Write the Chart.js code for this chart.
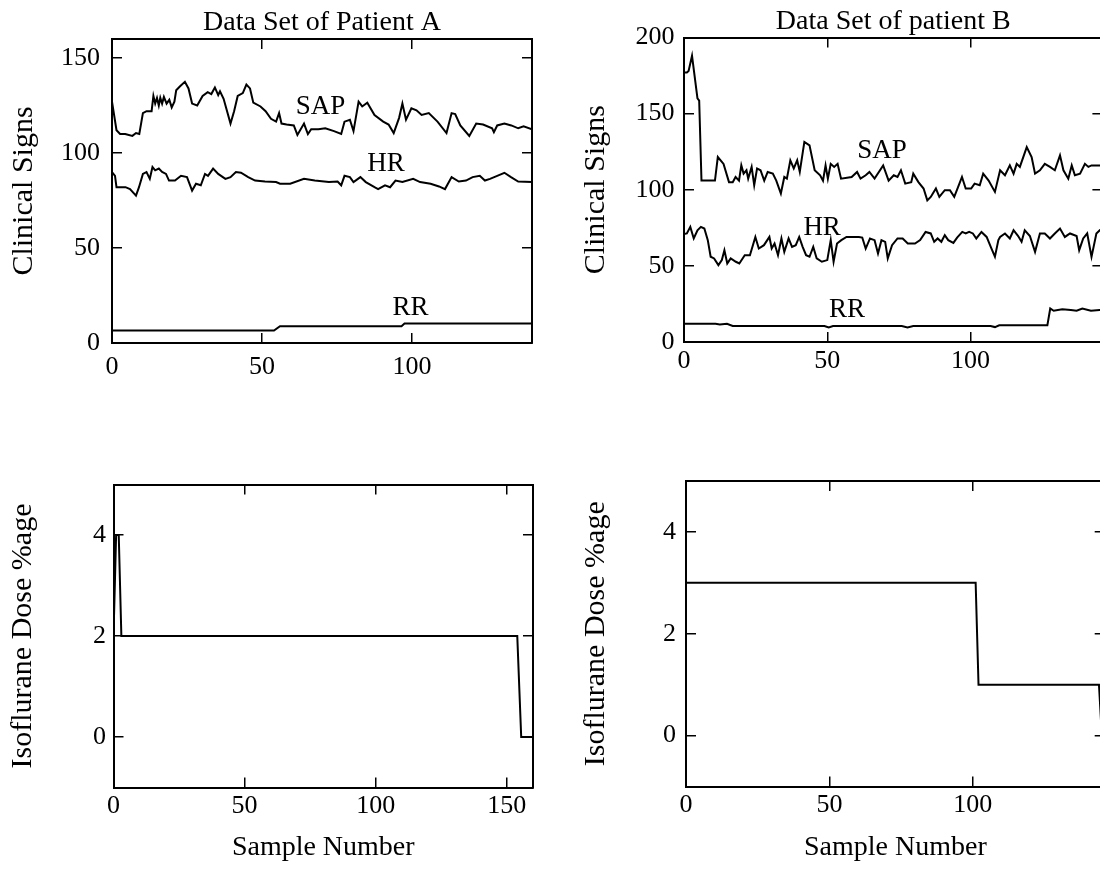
<!DOCTYPE html>
<html>
<head>
<meta charset="utf-8">
<script src="https://cdn.jsdelivr.net/npm/chart.js@4.4.1/dist/chart.umd.min.js"></script>
<style>
  html, body { margin: 0; padding: 0; background: #fff; overflow: hidden; }
  body { width: 1100px; height: 871px; position: relative; }
  canvas { position: absolute; }
</style>
</head>
<body>
<canvas id="signsA" width="550" height="435" style="left:0;top:0"></canvas>
<canvas id="signsB" width="600" height="435" style="left:550px;top:0"></canvas>
<canvas id="doseA" width="550" height="436" style="left:0;top:435px"></canvas>
<canvas id="doseB" width="600" height="436" style="left:550px;top:435px"></canvas>
<script>
// ---- patient A: clinical signs, [sample, value]
const sapA = [[0,127],[1.5,112],[2.7,110],[4.4,110],[6.8,109],[8,110.5],[9.1,110],[10.3,121],[11.5,122],[13.2,122],
  [13.8,130],[14.4,126],[15,129],[15.6,125],[16.1,129],[16.7,126],[17.3,129.5],[18.2,126],[19.1,128],[19.9,124],
  [20.8,127],[21.4,133],[22.6,135],[24.3,137.5],[25.5,134],[26.7,126],[28.4,125],[30.2,130],[31.9,132],[33.1,131],
  [34.3,134.5],[35.4,130.5],[36,132.5],[37.2,128.5],[39.5,115.5],[40.7,122],[41.9,130],[43.6,131.5],[44.8,136],[46,134],
  [47.1,126.5],[49.5,124.5],[51.2,122],[53,118],[54.7,116.5],[55.7,121],[56.5,115.5],[58.2,115],[60.6,114.5],[61.8,109.5],
  [64,115.5],[65.3,110],[66.4,112.5],[68.8,112.5],[71.1,113],[74,111.5],[76.4,110],[77.5,116.5],[79.3,117.5],[80.5,111.5],
  [82.2,127],[83.4,124.5],[85.1,126.5],[87.5,120],[90.4,116.5],[92.2,115],[93.9,110.5],[95.7,118.5],[96.8,126],[98,117.5],
  [99.8,123.5],[101.5,122.5],[103.2,120],[105.6,121],[108.5,116.5],[111.5,110.5],[113.2,121],[114.4,120.5],[116.1,114.5],
  [119.1,109],[121.4,115.5],[123.7,115],[126.7,113],[127.3,111],[128.4,114.5],[130.8,115.5],[133.1,114.5],[135.4,113],
  [137.2,114],[140,112.5]];
const hrA = [[0,90],[1,88],[1.5,82],[3,82],[4.5,82],[6,81],[8,77.6],[9,82],[10.3,89],[11.5,90],[12.6,86.4],[13.5,92.6],
  [14.4,90.9],[15.6,91.8],[16.7,90],[18,89],[19,85.5],[21,85.5],[23,88],[25,87.3],[26.7,80.2],[28,83.8],[29.6,83],
  [31,89],[32,88],[33.7,91.8],[35.4,89],[37.8,86.4],[39.5,87.3],[41.3,90],[43,89.6],[45.4,87.3],[47.7,85.5],[51,85],
  [54.7,84.7],[56,83.8],[59.4,83.8],[64,86.4],[67.6,85.5],[72.3,84.7],[75.2,85],[76.4,83],[77.5,88],[79.3,87.3],
  [80.5,84.7],[82.8,87.3],[84.6,84.7],[87.5,82],[88.7,81],[91,83],[92.7,82],[94.5,85.5],[96.8,84.7],[100.4,86.4],
  [102.7,84.7],[106.2,83.8],[109,82.4],[111,81],[113.2,87.3],[115.6,85],[118,85.5],[120.2,87.3],[122.6,88],[124.3,85.5],
  [126,86.4],[128.4,88],[130.8,89.6],[133,87.3],[135.4,85],[140,84.7]];
const rrA = [[0,6.6],[54,6.6],[56,8.8],[96.5,8.8],[97.5,10.2],[140,10.2]];

// ---- patient B: clinical signs
const sapB = [[0,177],[1,177],[1.6,178],[2.8,188],[4.7,160],[5.3,158.5],[6.1,106],[10.8,106],[11.8,121.5],[13.8,117],
  [15.7,105],[17,105],[18,108.4],[19.2,106],[20,116],[20.8,110.6],[21.8,112.8],[22.4,107.3],[23.6,115],[24.5,103],
  [25.5,114],[26.7,112.8],[28,106],[29.2,111.7],[31,110.6],[32.2,106],[33.8,97.5],[35,108.4],[35.9,107.3],[37.1,119.3],
  [38.3,114],[39.5,119.3],[40.4,111.7],[42,131.4],[43.8,129.2],[45.6,112.8],[47.5,109.5],[48.5,106],[49.4,116],[50.2,107.3],
  [51.2,117],[52.4,115],[53.6,117],[54.8,107.3],[58.5,108.4],[60.4,111.7],[61.6,107.3],[63.4,109.5],[64.7,111.7],[66.5,107.3],
  [69.5,116],[71.4,106],[73.2,109.5],[74.5,108.4],[75.7,112.8],[77.2,104],[79.3,105],[80,110.6],[81.8,105],[83.6,100.8],
  [84.9,93],[86.1,95.3],[87.9,100.8],[89.1,95.3],[91,99.7],[92.8,99.7],[94.3,95.3],[95.9,103],[97,108.4],[98.3,100.8],
  [100.2,100.8],[101.4,104],[103.2,103],[104.4,110.6],[106.3,106],[108.5,98.6],[110.3,112.8],[112,109.5],[113.7,116],
  [115,110.6],[116.1,117],[117.2,115],[119.6,128],[121.3,121.5],[122.5,110.6],[124.2,112.8],[125.9,117],[127.7,115],
  [129.4,112.8],[131.2,122.6],[132.4,112.8],[134.1,107.3],[135.3,116],[136.4,109.5],[138.2,110.6],[139.9,117],[141.1,115],
  [142.2,116],[145.1,116],[147,115]];
const hrB = [[0,71],[1,71.3],[2.2,75.6],[3.4,68],[4.7,73.4],[5.9,75.6],[7.1,74.5],[8.3,66.9],[9.3,56],[10.5,54.9],
  [12,50.5],[13.2,53.8],[14.1,60.3],[15.1,51.6],[16.3,54.9],[18.1,52.7],[19.3,51.6],[21.2,57],[23,57],[24.9,69],
  [26.1,61.4],[27.9,63.6],[29.8,69],[30.6,61.4],[31.6,64.7],[32.8,57],[34,68],[35,59.2],[36.5,68],[37.7,62.5],
  [39,63.6],[40.2,69],[41.4,62.5],[42.6,57],[43.8,56],[45.1,62.5],[46.3,54.9],[48.1,52.7],[50,53.8],[51.2,66.9],
  [52.2,52.7],[53.4,64.7],[54.9,66.9],[56.7,69],[61,69],[62.2,68.6],[63.4,61.4],[64.9,68],[66.5,66.9],[67.7,58.1],
  [68.9,66.9],[70.2,65.8],[71.1,54.9],[72.6,63.6],[74.5,68],[76.3,68],[78.1,64.7],[80.6,64.7],[82.4,66.9],[84.3,72.3],
  [86.1,71.3],[87.3,65.8],[88.5,68],[89.8,65.8],[91,70.2],[92.2,66.9],[94,65.1],[95.3,68.6],[97.1,72.3],[98.3,71.3],
  [99.5,72.3],[100.8,71.3],[102,68],[103.8,72.3],[105.6,69],[107.3,61.4],[108.5,56],[109.7,66.9],[110.3,69],[112,71.3],
  [113.7,68],[115,73.4],[116.6,69.6],[117.8,65.8],[118.9,73.4],[120.7,69.6],[122.5,59.2],[124.2,71.3],[125.9,71.3],
  [127.7,68],[129.4,71.3],[131.2,74.5],[132.9,69],[134.7,71.3],[137,69.6],[137.9,60.3],[139.3,68],[140.7,71.3],
  [142.2,55.9],[143.9,71.3],[145.1,73.4],[147,72]];
const rrB = [[0,12],[11,12],[12.5,11.5],[15,12],[17,10.5],[49,10.5],[50.5,9.5],[52,10.5],[76,10.5],[78,9.5],[80,10.5],
  [107,10.5],[108.5,9.8],[110,11],[126.8,11],[127.8,22],[129,20.5],[132,21.5],[135,21],[137,20.5],[139,22],[142,20.5],
  [145,21],[147,21]];

// ---- isoflurane dose (%)
const doseA = [[0,2],[1,4],[2,4],[3,2],[154,2],[155.5,0],[160,0]];
const doseB = [[0,3],[101,3],[102,1],[144,1],[145,0],[147,0]];

// ---- ticks
const signsTicksAx = [0, 50, 100];
const signsTicksAy = [0, 50, 100, 150];
const signsTicksBx = [0, 50, 100];
const signsTicksBy = [0, 50, 100, 150, 200];
const doseTicksAx = [0, 50, 100, 150];
const doseTicksBx = [0, 50, 100];
const doseTicksY = [0, 2, 4];

// ---- curve names, placed in data units
const curveNames = ['SAP', 'HR', 'RR'];
const curveNamePosA = [[69.5, 124], [91.3, 94.2], [99.5, 18.4]];
const curveNamePosB = [[69.1, 125.4], [48.2, 74.9], [56.9, 21]];

const FONT = 'Liberation Serif';

const curveLabels = {
  id: 'curveLabels',
  afterDatasetsDraw(chart, args, opts) {
    const items = opts.items || [];
    const ctx = chart.ctx;
    ctx.save();
    ctx.font = '27px "' + FONT + '"';
    ctx.fillStyle = '#000';
    ctx.textAlign = 'center';
    ctx.textBaseline = 'middle';
    items.forEach(it => {
      ctx.fillText(it.text, chart.scales.x.getPixelForValue(it.x), chart.scales.y.getPixelForValue(it.y));
    });
    ctx.restore();
  }
};

function panel(id, p) {
  const canvas = document.getElementById(id);
  const W = canvas.width, H = canvas.height;
  const b = p.box;
  const ticksOf = vals => s => { s.ticks = vals.map(v => ({ value: v })); };
  const grid = () => ({
    display: true, drawOnChartArea: false, drawTicks: true, tickLength: -10,
    color: '#000', tickColor: '#000', tickWidth: 1.5, lineWidth: 1.5
  });
  const border = () => ({ display: true, color: '#000', width: 2 });
  const tickFont = { family: FONT, size: 26, lineHeight: 1 };
  const titleFont = { family: FONT, size: 28, weight: 'normal', lineHeight: 1 };
  const yTitleFont = { family: FONT, size: 30, weight: 'normal', lineHeight: 1 };

  const edge = (pos, min, max, vals, size) => ({
    type: 'linear', position: pos, min, max,
    afterBuildTicks: ticksOf(vals),
    afterFit: pos === 'top' ? s => { s.height = size; } : s => { s.width = size; },
    grid: grid(), border: border(),
    ticks: { display: false }
  });

  return new Chart(canvas, {
    type: 'line',
    data: {
      datasets: p.series.map(pts => ({
        data: pts.map(([x, y]) => ({ x, y })),
        borderColor: '#000', borderWidth: 2, pointRadius: 0, tension: 0, fill: false
      }))
    },
    options: {
      responsive: false, animation: false, devicePixelRatio: 1,
      layout: { padding: { left: 0, right: W - b.right, top: p.title ? 0 : b.top, bottom: 0 } },
      plugins: {
        legend: { display: false },
        tooltip: { enabled: false },
        title: p.title ? {
          display: true, text: p.title, fullSize: false, color: '#000', font: titleFont,
          padding: { top: p.titlePad, bottom: b.top - 28 - p.titlePad }
        } : { display: false },
        curveLabels: { items: p.labels || [] }
      },
      scales: {
        x: {
          type: 'linear', position: 'bottom', min: 0, max: p.xMax,
          afterBuildTicks: ticksOf(p.xTicks),
          afterFit: s => { s.height = H - b.bottom; },
          grid: grid(), border: border(),
          ticks: { color: '#000', font: tickFont, padding: p.xPad, maxRotation: 0, autoSkip: false },
          title: p.xTitle ? {
            display: true, text: p.xTitle, color: '#000', font: titleFont,
            padding: { top: 0, bottom: p.xTitlePad }
          } : { display: false }
        },
        y: {
          type: 'linear', position: 'left', min: p.yMin, max: p.yMax,
          afterBuildTicks: ticksOf(p.yTicks),
          afterFit: s => { s.width = b.left; },
          grid: grid(), border: border(),
          ticks: { color: '#000', font: tickFont, padding: p.yPad, autoSkip: false },
          title: {
            display: true, text: p.yTitle, color: '#000', font: yTitleFont,
            padding: { top: p.yTitlePad, bottom: 0 }
          }
        },
        x2: edge('top', 0, p.xMax, p.xTicks, 0),
        y2: edge('right', p.yMin, p.yMax, p.yTicks, 0)
      }
    },
    plugins: [curveLabels]
  });
}

const namesAt = pos => curveNames.map((t, i) => ({ text: t, x: pos[i][0], y: pos[i][1] }));

panel('signsA', {
  series: [sapA, hrA, rrA], xMax: 140, yMin: 0, yMax: 160,
  xTicks: signsTicksAx, yTicks: signsTicksAy,
  title: 'Data Set of Patient A', yTitle: 'Clinical Signs',
  labels: namesAt(curveNamePosA),
  box: { left: 112, top: 39, right: 532, bottom: 343 },
  titlePad: 8.5, xPad: 21.5, yPad: 22, yTitlePad: 9.5
});

panel('signsB', {
  series: [sapB, hrB, rrB], xMax: 146, yMin: 0, yMax: 200,
  xTicks: signsTicksBx, yTicks: signsTicksBy,
  title: 'Data Set of patient B', yTitle: 'Clinical Signs',
  labels: namesAt(curveNamePosB),
  box: { left: 134, top: 37.5, right: 552.4, bottom: 342 },
  titlePad: 8, xPad: 16, yPad: 19.5, yTitlePad: 31.5
});

panel('doseA', {
  series: [doseA], xMax: 160, yMin: -1, yMax: 5,
  xTicks: doseTicksAx, yTicks: doseTicksY,
  yTitle: 'Isoflurane Dose %age', xTitle: 'Sample Number',
  box: { left: 113.5, top: 49.5, right: 533, bottom: 352.5 },
  xPad: 15.5, yPad: 17.5, yTitlePad: 8.5, xTitlePad: 9.5
});

panel('doseB', {
  series: [doseB], xMax: 146, yMin: -1, yMax: 5,
  xTicks: doseTicksBx, yTicks: doseTicksY,
  yTitle: 'Isoflurane Dose %age', xTitle: 'Sample Number',
  box: { left: 136, top: 46, right: 554.7, bottom: 351.5 },
  xPad: 15.5, yPad: 20, yTitlePad: 31.5, xTitlePad: 9.5
});
</script>
</body>
</html>
